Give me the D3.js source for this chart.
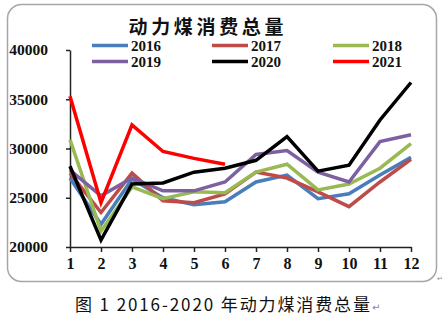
<!DOCTYPE html>
<html>
<head>
<meta charset="utf-8">
<script src="https://cdn.jsdelivr.net/npm/d3@7"></script>
<style>
  html, body { margin: 0; padding: 0; background: #fff; }
  svg { display: block; }
</style>
</head>
<body>
<svg id="chart" width="442" height="324"></svg>
<script>
const WIDTH = 442;
const HEIGHT = 324;
const MARGIN = { top: 50, right: 31, bottom: 77, left: 70 };

const months = ["1", "2", "3", "4", "5", "6", "7", "8", "9", "10", "11", "12"];
const yTicks = [20000, 25000, 30000, 35000, 40000];
const years = ["2016", "2017", "2018", "2019", "2020", "2021"];
const colors = ["#4A7EBB", "#BE4B48", "#98B954", "#7D60A0", "#000000", "#FF0000"];

const v2016 = [27000, 22300, 26900, 25000, 24300, 24600, 26600, 27300, 24900, 25400, 27300, 29100];
const v2017 = [27500, 23500, 27500, 24700, 24500, 25400, 27600, 27000, 25600, 24100, 26600, 28900];
const v2018 = [30900, 21600, 26100, 24900, 25600, 25500, 27600, 28400, 25800, 26400, 28000, 30500];
const v2019 = [27800, 25200, 27000, 25700, 25700, 26600, 29400, 29800, 27600, 26600, 30700, 31400];
const v2020 = [28200, 20700, 26400, 26500, 27600, 28000, 28800, 31200, 27700, 28300, 32900, 36700];
const v2021 = [35300, 24500, 32400, 29700, 29000, 28400];

const seriesValues = [v2016, v2017, v2018, v2019, v2020, v2021];

const svg = d3.select("#chart");

// outer rounded frame
svg
  .append("rect")
  .attr("x", 7.5)
  .attr("y", 4.5)
  .attr("width", 429)
  .attr("height", 277)
  .attr("rx", 14)
  .attr("fill", "#fff")
  .attr("stroke", "#a6a6a6")
  .attr("stroke-width", 1.5);

const x = d3
  .scalePoint()
  .domain(months)
  .range([MARGIN.left, WIDTH - MARGIN.right]);

const y = d3
  .scaleLinear()
  .domain([20000, 40000])
  .range([HEIGHT - MARGIN.bottom, MARGIN.top]);

// title
svg
  .append("text")
  .attr("x", 206)
  .attr("y", 34)
  .attr("text-anchor", "middle")
  .attr("font-family", "'Noto Sans CJK SC', sans-serif")
  .attr("font-weight", "bold")
  .attr("font-size", 19)
  .attr("textLength", 155)
  .attr("lengthAdjust", "spacing")
  .attr("fill", "#111")
  .text("动力煤消费总量");

// axes
const xAxis = g =>
  g
    .attr("transform", `translate(0,${HEIGHT - MARGIN.bottom})`)
    .call(d3.axisBottom(x).tickSize(5).tickSizeOuter(0).tickPadding(6))
    .call(g => g.select(".domain").attr("stroke", "#222").attr("stroke-width", 1.5))
    .call(g => g.selectAll(".tick line").attr("stroke", "#222").attr("stroke-width", 1.5))
    .call(g =>
      g
        .selectAll(".tick text")
        .attr("font-family", "'Liberation Serif', serif")
        .attr("font-weight", "bold")
        .attr("font-size", 16)
        .attr("fill", "#111")
    );

const yAxis = g =>
  g
    .attr("transform", `translate(${MARGIN.left},0)`)
    .call(
      d3
        .axisLeft(y)
        .tickValues(yTicks)
        .tickFormat(d3.format("d"))
        .tickSize(4)
        .tickSizeOuter(0)
        .tickPadding(18)
    )
    .call(g => g.select(".domain").attr("stroke", "#222").attr("stroke-width", 1.5))
    .call(g => g.selectAll(".tick line").attr("stroke", "#222").attr("stroke-width", 1.5))
    .call(g =>
      g
        .selectAll(".tick text")
        .attr("font-family", "'Liberation Serif', serif")
        .attr("font-weight", "bold")
        .attr("font-size", 15.5)
        .attr("fill", "#111")
    );

svg.append("g").call(xAxis);
svg.append("g").call(yAxis);

// lines
const line = d3
  .line()
  .x((d, i) => x(months[i]))
  .y(d => y(d));

svg
  .append("g")
  .selectAll("path")
  .data(seriesValues)
  .join("path")
  .attr("d", d => line(d))
  .attr("fill", "none")
  .attr("stroke", (d, i) => colors[i])
  .attr("stroke-width", 3.5)
  .attr("stroke-linejoin", "miter");

// legend, 3 columns x 2 rows
const legendCols = [92, 212, 333];
const legendRows = [45.5, 61.5];

const legend = svg
  .append("g")
  .selectAll("g")
  .data(years)
  .join("g")
  .attr("transform", (d, i) => `translate(${legendCols[i % 3]},${legendRows[Math.floor(i / 3)]})`);

legend
  .append("line")
  .attr("x1", 0)
  .attr("x2", 36)
  .attr("stroke", (d, i) => colors[i])
  .attr("stroke-width", 3.5);

legend
  .append("text")
  .attr("x", 39)
  .attr("y", 5)
  .attr("font-family", "'Liberation Serif', serif")
  .attr("font-weight", "bold")
  .attr("font-size", 15)
  .attr("fill", "#111")
  .text(d => d);

// caption below the frame
svg
  .append("text")
  .attr("x", 75)
  .attr("y", 311)
  .attr("font-family", "'Noto Sans CJK SC', sans-serif")
  .attr("font-size", 17)
  .attr("textLength", 295)
  .attr("lengthAdjust", "spacing")
  .attr("fill", "#111")
  .text("图 1 2016-2020 年动力煤消费总量");

svg
  .append("text")
  .attr("x", 372)
  .attr("y", 311)
  .attr("font-family", "'DejaVu Sans', sans-serif")
  .attr("font-size", 10)
  .attr("fill", "#888")
  .text("↵");

svg
  .append("text")
  .attr("x", 437)
  .attr("y", 281)
  .attr("font-family", "'DejaVu Sans', sans-serif")
  .attr("font-size", 7)
  .attr("fill", "#888")
  .text("↵");
</script>
</body>
</html>
